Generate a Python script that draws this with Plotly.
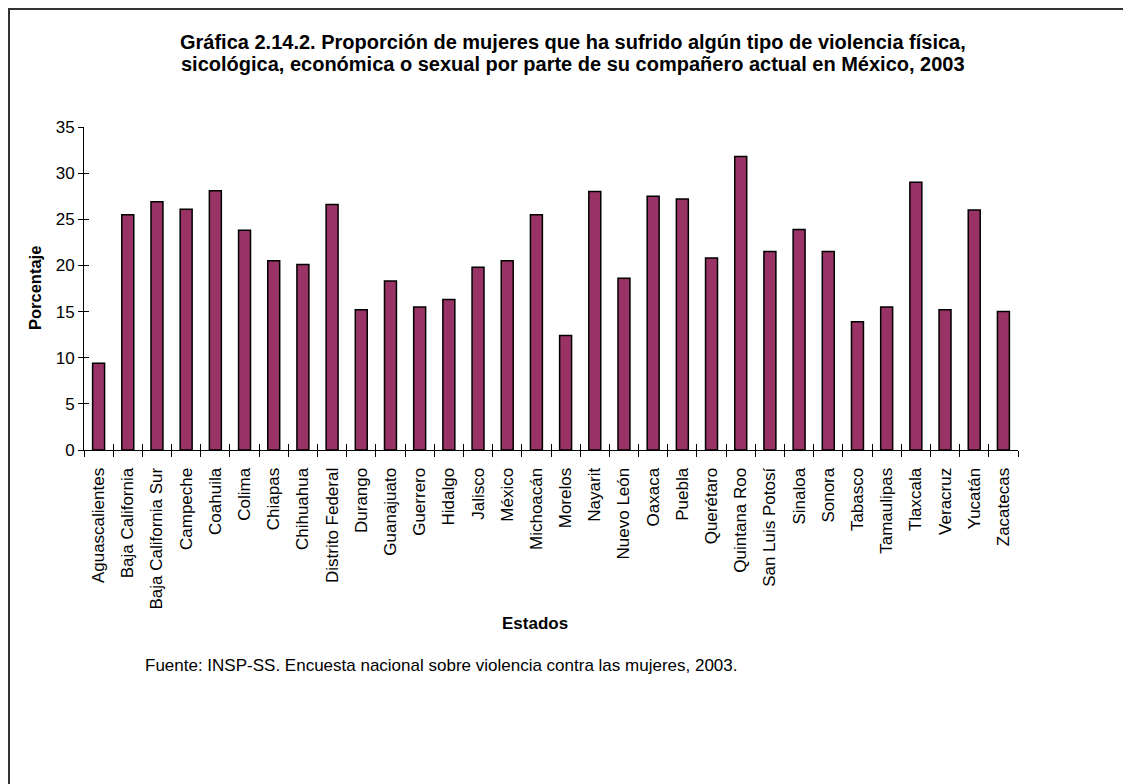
import plotly.graph_objects as go

estados = ["Aguascalientes", "Baja California", "Baja California Sur", "Campeche",
           "Coahuila", "Colima", "Chiapas", "Chihuahua", "Distrito Federal",
           "Durango", "Guanajuato", "Guerrero", "Hidalgo", "Jalisco", "México",
           "Michoacán", "Morelos", "Nayarit", "Nuevo León", "Oaxaca", "Puebla",
           "Querétaro", "Quintana Roo", "San Luis Potosí", "Sinaloa", "Sonora",
           "Tabasco", "Tamaulipas", "Tlaxcala", "Veracruz", "Yucatán", "Zacatecas"]
porcentaje = [9.4, 25.5, 26.9, 26.1, 28.1, 23.8, 20.5, 20.1, 26.6,
              15.2, 18.3, 15.5, 16.3, 19.8, 20.5, 25.5, 12.4, 28.0,
              18.6, 27.5, 27.2, 20.8, 31.8, 21.5, 23.9, 21.5, 13.9,
              15.5, 29.0, 15.2, 26.0, 15.0]
y_ticks = [0, 5, 10, 15, 20, 25, 30, 35]

titulo1 = "Gráfica 2.14.2. Proporción de mujeres que ha sufrido algún tipo de violencia física,"
titulo2 = "sicológica, económica o sexual por parte de su compañero actual en México, 2003"
fuente = "Fuente: INSP-SS. Encuesta nacional sobre violencia contra las mujeres, 2003."

font = "Liberation Sans, Arial, sans-serif"

# page is offset by the 8px body margin; work in page pixels
OFF = 8
W, H = 1131 - OFF, 784 - OFF
L, R, T, B = 84, 1018, 127, 450  # plot area in page px


def px(x):
    return (x - L) / (R - L)


def py(y):
    return (B - y) / (B - T)


fig = go.Figure()
fig.add_trace(go.Bar(
    x=estados, y=porcentaje,
    marker=dict(color="#993366", line=dict(color="black", width=1.5)),
))
# invisible copy so the overlay axes can draw the inner half of the ticks
fig.add_trace(go.Bar(
    x=estados, y=porcentaje, xaxis="x2", yaxis="y2", opacity=0,
    hoverinfo="skip", showlegend=False,
))

fig.update_layout(
    width=W, height=H,
    margin=dict(l=L - OFF, r=W - (R - OFF), t=T - OFF, b=H - (B - OFF), pad=0),
    paper_bgcolor="white", plot_bgcolor="white",
    font=dict(family=font, size=17, color="black"),
    bargap=0.59,
    showlegend=False,
    xaxis=dict(showline=True, linecolor="black", linewidth=1, tickangle=-90,
               ticks="outside", ticklen=6, tickcolor="black", tickson="boundaries",
               showgrid=False, tickfont=dict(size=17), ticklabelstandoff=10),
    yaxis=dict(range=[0, 35], tickvals=y_ticks, showline=True, linecolor="black",
               linewidth=1, ticks="outside", ticklen=5, tickcolor="black",
               showgrid=False, zeroline=False, tickfont=dict(size=17)),
    xaxis2=dict(overlaying="x", anchor="y", ticks="inside", ticklen=6,
                tickcolor="black", tickson="boundaries", showticklabels=False,
                showline=False, showgrid=False),
    yaxis2=dict(overlaying="y", anchor="x", side="left", range=[0, 35],
                tickvals=y_ticks, ticks="inside", ticklen=5, tickcolor="black",
                showticklabels=False, showline=False, showgrid=False, zeroline=False),
    annotations=[
        dict(text="<b>" + titulo1 + "</b>", xref="paper", yref="paper",
             x=px(573), y=py(42), showarrow=False, xanchor="center",
             yanchor="middle", font=dict(size=20)),
        dict(text="<b>" + titulo2 + "</b>", xref="paper", yref="paper",
             x=px(573), y=py(64), showarrow=False, xanchor="center",
             yanchor="middle", font=dict(size=20)),
        dict(text="<b>Porcentaje</b>", xref="paper", yref="paper", x=px(35), y=py(288),
             textangle=-90, showarrow=False, xanchor="center", yanchor="middle",
             font=dict(size=16.5)),
        dict(text="<b>Estados</b>", xref="paper", yref="paper", x=px(535), y=py(623),
             showarrow=False, xanchor="center", yanchor="middle", font=dict(size=17)),
        dict(text=fuente, xref="paper", yref="paper", x=px(143), y=py(665),
             showarrow=False, xanchor="left", yanchor="middle", font=dict(size=17)),
    ],
    shapes=[
        dict(type="line", xref="paper", yref="paper", x0=px(9), x1=px(9),
             y0=py(8), y1=py(800), line=dict(color="#333333", width=2)),
        dict(type="line", xref="paper", yref="paper", x0=px(8), x1=px(1140),
             y0=py(9), y1=py(9), line=dict(color="#333333", width=2)),
    ],
)

fig.write_html("out.html")
